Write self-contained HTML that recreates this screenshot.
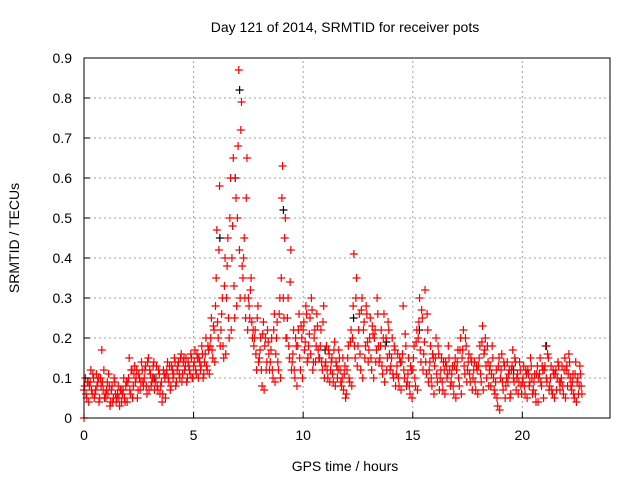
<!DOCTYPE html>
<html><head><meta charset="utf-8"><style>
body{margin:0;background:#fff}
svg{display:block;font-family:"Liberation Sans",sans-serif}
</style></head><body>
<svg id="chart" width="640" height="480">
<text x="345" y="32" text-anchor="middle" font-size="14">Day 121 of 2014, SRMTID for receiver pots</text>
<text x="345" y="471" text-anchor="middle" font-size="14">GPS time / hours</text>
<text transform="translate(19,238) rotate(-90)" text-anchor="middle" font-size="14">SRMTID / TECUs</text>
<g id="grid"></g><g id="marks"></g><g id="axes"></g>
</svg>
<script>
const hours=[0,0.25,0.5,0.75,1,1.25,1.5,1.75,2,2.25,2.5,2.75,3,3.25,3.5,3.75,4,4.25,4.5,4.75,5,5.25,5.5,5.75,6,6.25,6.5,6.75,7,7.25,7.5,7.75,8,8.25,8.5,8.75,9,9.25,9.5,9.75,10,10.25,10.5,10.75,11,11.25,11.5,11.75,12,12.25,12.5,12.75,13,13.25,13.5,13.75,14,14.25,14.5,14.75,15,15.25,15.5,15.75,16,16.25,16.5,16.75,17,17.25,17.5,17.75,18,18.25,18.5,18.75,19,19.25,19.5,19.75,20,20.25,20.5,20.75,21,21.25,21.5,21.75,22,22.25,22.5];
const srmtidA=[.07,.08,.06,.10,.05,.07,.05,.06,.09,.08,.11,.10,.12,.09,.08,.11,.13,.12,.11,.14,.13,.15,.14,.18,.28,.22,.30,.40,.50,.35,.30,.18,.15,.18,.14,.16,.35,.20,.14,.18,.22,.18,.20,.15,.13,.12,.14,.08,.12,.20,.18,.22,.17,.20,.15,.18,.13,.11,.14,.09,.12,.20,.16,.12,.13,.10,.14,.09,.12,.15,.12,.10,.13,.16,.12,.06,.10,.08,.12,.10,.09,.12,.07,.10,.12,.08,.11,.09,.12,.07,.09];
const srmtidB=[.10,.12,.11,.17,.09,.04,.08,.10,.15,.13,.07,.13,.08,.13,.04,.14,.10,.14,.15,.12,.17,.12,.20,.25,.47,.30,.45,.65,.87,.45,.25,.22,.20,.12,.20,.24,.63,.30,.22,.26,.17,.25,.14,.22,.18,.15,.10,.15,.18,.41,.26,.15,.25,.14,.22,.12,.20,.16,.28,.15,.18,.30,.32,.18,.20,.15,.10,.13,.17,.22,.16,.14,.18,.20,.08,.12,.16,.14,.17,.06,.13,.08,.11,.15,.18,.13,.07,.13,.08,.11,.06];
const srmtidC=[.05,.06,.09,.07,.11,.10,.03,.04,.06,.10,.14,.06,.10,.07,.12,.09,.15,.10,.13,.16,.11,.18,.12,.15,.20,.15,.20,.25,.30,.25,.35,.12,.08,.22,.10,.12,.25,.15,.10,.12,.28,.30,.26,.12,.10,.09,.17,.11,.09,.15,.12,.28,.12,.30,.11,.24,.10,.08,.10,.06,.08,.14,.11,.08,.09,.07,.18,.06,.08,.11,.09,.07,.09,.10,.18,.03,.07,.11,.09,.14,.06,.15,.04,.08,.09,.06,.14,.06,.16,.05,.13];
const srmtidD=[.09,.10,.04,.05,.03,.06,.07,.09,.12,.05,.09,.15,.14,.11,.10,.07,.08,.16,.09,.10,.15,.10,.17,.22,.58,.40,.60,.55,.79,.65,.20,.28,.24,.16,.26,.30,.50,.42,.18,.20,.14,.12,.17,.28,.16,.19,.12,.05,.22,.35,.30,.19,.21,.18,.26,.16,.17,.14,.18,.12,.22,.25,.22,.15,.16,.12,.12,.15,.20,.18,.14,.12,.23,.14,.10,.15,.13,.05,.14,.08,.11,.10,.13,.12,.15,.11,.09,.15,.10,.14,.08];
const srmtidE=[.08,.09,.07,.08,.07,.08,.06,.07,.10,.11,.10,.12,.11,.10,.09,.12,.12,.13,.14,.13,.14,.14,.16,.20,.35,.26,.38,.48,.68,.40,.28,.20,.17,.20,.17,.20,.55,.25,.16,.22,.24,.21,.22,.18,.14,.14,.13,.10,.15,.28,.22,.24,.20,.22,.18,.20,.15,.13,.16,.11,.15,.24,.19,.14,.15,.12,.13,.11,.14,.17,.14,.12,.15,.17,.13,.09,.12,.10,.13,.11,.10,.11,.09,.11,.13,.10,.12,.10,.13,.09,.10];
const srmtidF=[.06,.07,.08,.09,.06,.05,.05,.05,.07,.09,.09,.08,.09,.08,.06,.10,.11,.11,.12,.11,.12,.13,.13,.17,.24,.18,.25,.33,.42,.30,.32,.16,.12,.14,.12,.14,.30,.18,.12,.15,.19,.16,.18,.14,.12,.11,.12,.07,.10,.18,.16,.18,.15,.17,.13,.15,.11,.10,.12,.08,.10,.17,.14,.10,.11,.09,.11,.08,.10,.13,.11,.09,.11,.13,.11,.05,.09,.09,.10,.09,.08,.09,.06,.09,.10,.07,.10,.08,.11,.06,.08];
const srmtidG=[.09,.11,.10,.12,.08,.09,.07,.08,.12,.12,.12,.14,.13,.12,.11,.13,.14,.15,.15,.15,.16,.16,.18,.23,.42,.33,.50,.60,.72,.55,.24,.25,.21,.19,.22,.26,.45,.34,.20,.23,.26,.27,.23,.24,.17,.17,.15,.13,.19,.30,.27,.26,.23,.26,.20,.22,.18,.15,.21,.13,.19,.27,.26,.16,.18,.14,.15,.13,.17,.20,.15,.13,.19,.18,.15,.13,.14,.12,.15,.12,.12,.13,.11,.13,.16,.12,.13,.12,.14,.11,.11];
const srmtidH=[.04,.05,.05,.06,.04,.04,.04,.04,.05,.07,.08,.07,.07,.06,.05,.08,.09,.09,.10,.10,.10,.11,.11,.14,.18,.16,.22,.28,.38,.22,.22,.14,.07,.12,.09,.10,.20,.12,.08,.10,.15,.14,.15,.10,.09,.08,.09,.06,.08,.13,.10,.14,.10,.14,.09,.12,.08,.07,.08,.05,.07,.12,.09,.06,.07,.06,.08,.05,.06,.09,.07,.06,.07,.08,.07,.02,.05,.06,.07,.06,.05,.06,.04,.05,.07,.05,.07,.05,.08,.04,.06];
const blackHours=[6.2,6.9,7.1,9.1,12.3,15.3,21.1,3.2,11.0,13.8,19.6];
const blackVals=[0.45,0.6,0.82,0.52,0.25,0.22,0.18,0.10,0.17,0.19,0.12];
const xTicks=[0,5,10,15,20];
const yTicks=[0,0.1,0.2,0.3,0.4,0.5,0.6,0.7,0.8,0.9];
const X0=84,X1=610,Y0=418,Y1=58,XMAX=24,YMAX=0.9;
const xs=v=>X0+v/XMAX*(X1-X0), ys=v=>Y0-v/YMAX*(Y0-Y1);
const NS='http://www.w3.org/2000/svg';
function mk(t,a,p){const e=document.createElementNS(NS,t);for(const k in a)e.setAttribute(k,a[k]);p.appendChild(e);return e;}
const grid=document.getElementById('grid'),axes=document.getElementById('axes'),marks=document.getElementById('marks');
xTicks.forEach(v=>{
 if(v>0){const g=mk('line',{x1:xs(v),x2:xs(v),y1:Y0,y2:Y1,stroke:'#a0a0a0','stroke-dasharray':'2,3'},grid);
 
 }
 const t=mk('text',{x:xs(v),y:Y0+22,'text-anchor':'middle','font-size':14},axes);t.textContent=v;
 
 
 mk('line',{x1:xs(v),x2:xs(v),y1:Y0,y2:Y0-6,stroke:'#000'},axes);
});
yTicks.forEach(v=>{
 if(v>0&&v<0.9){const g=mk('line',{x1:X0,x2:X1,y1:ys(v),y2:ys(v),stroke:'#a0a0a0','stroke-dasharray':'2,3'},grid);
 
 }
 const t=mk('text',{x:X0-12,y:ys(v)+5,'text-anchor':'end','font-size':14},axes);t.textContent=v;
 
 
 mk('line',{x1:X0,x2:X0+6,y1:ys(v),y2:ys(v),stroke:'#000'},axes);
});
const fr=mk('rect',{x:X0,y:Y1,width:X1-X0,height:Y0-Y1,fill:'none',stroke:'#000'},axes);


function cross(x,y,c){const p=mk('path',{d:`M${x-4} ${y}h8M${x} ${y-4}v8`,stroke:c,'stroke-width':1.2,fill:'none'},marks);
 
 }
blackHours.forEach((h,i)=>cross(xs(h),ys(blackVals[i]),'#000'));
[srmtidA,srmtidE,srmtidB,srmtidF,srmtidC,srmtidG,srmtidD,srmtidH].forEach((ser,k)=>{
 ser.forEach((v,i)=>cross(xs(hours[i]+k*0.031),ys(v),'#f00'));
});
cross(xs(0),ys(0),'#f00');
</script>
</body></html>
